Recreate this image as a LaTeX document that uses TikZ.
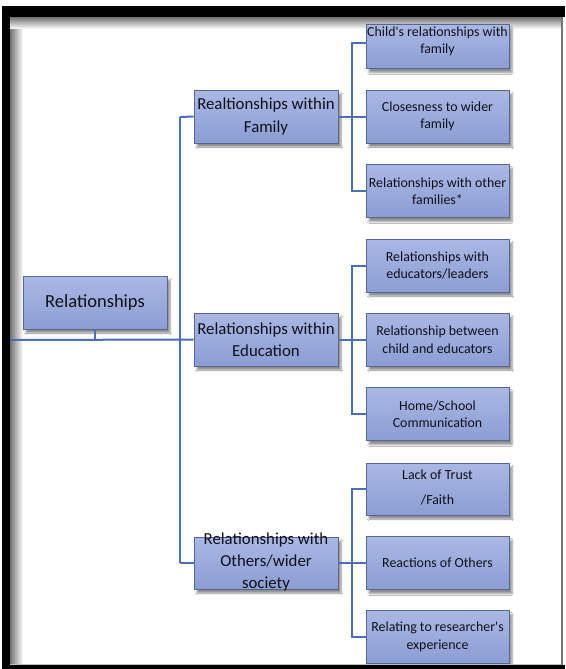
\documentclass[tikz,border=0pt]{standalone}
\usepackage{fontspec}
\setmainfont{Carlito}
\usetikzlibrary{shadows.blur}
\definecolor{boxtop}{RGB}{170,184,228}
\definecolor{boxbot}{RGB}{139,157,211}
\definecolor{boxedge}{RGB}{88,102,148}
\definecolor{conncol}{RGB}{76,110,180}
\definecolor{inkcol}{RGB}{16,16,24}
\tikzset{
  card/.style={rectangle, draw=boxedge, line width=0.8pt, top color=boxtop, bottom color=boxbot,
    blur shadow={shadow xshift=3pt, shadow yshift=-4pt, shadow blur steps=6, shadow opacity=45},
    text=inkcol, align=center, inner sep=1pt},
  rootbox/.style={card, minimum width=144pt, minimum height=53pt, font=\fontsize{18.5}{21}\selectfont},
  midbox/.style={card, minimum width=144pt, minimum height=53pt, font=\fontsize{16.8}{22.5}\selectfont},
  leafbox/.style={card, minimum width=143pt, minimum height=53pt, font=\fontsize{13.9}{17.5}\selectfont},
  leaftext/.style={text=inkcol, align=center, inner sep=0pt, font=\fontsize{13.9}{17.5}\selectfont},
  midtext/.style={text=inkcol, align=center, inner sep=0pt, font=\fontsize{16.8}{22}\selectfont},
  conn/.style={draw=conncol, line width=2pt}
}
\begin{document}
\begin{tikzpicture}[x=1pt,y=-1pt]
\useasboundingbox (0,0) rectangle (565,669);
\fill[white] (0,0) rectangle (565,669);

% inner soft shading along the top and left edges of the frame
\shade[left color=black!55, right color=white] (10,17) rectangle (23,665);
\shade[top color=black!55, bottom color=white] (10,17) rectangle (562,29);

% trunk coordinates
\coordinate (trunktop) at (180,117);
\coordinate (trunkbot) at (180,563);
\coordinate (leftend) at (10,340);

% level-one and level-two boxes
\node[rootbox] (root) at (95,302.5) {Relationships};
\node[midbox] (fam) at (266,116.5) {Realtionships within\\Family};
\node[midbox] (edu) at (266,339.5) {Relationships within\\Education};
\node[card, minimum width=144pt, minimum height=52pt] (oth) at (266,563) {};

% leaf boxes
\node[card, minimum width=143pt, minimum height=44pt] (f1) at (437.5,46.5) {};
\node[leafbox] (f2) at (437.5,116.5) {Closesness to wider\\family};
\node[leafbox] (f3) at (437.5,191) {Relationships with other\\families*};
\node[leafbox] (e1) at (437.5,265.5) {Relationships with\\educators/leaders};
\node[leafbox] (e2) at (437.5,339.5) {Relationship between\\child and educators};
\node[leafbox] (e3) at (437.5,414) {Home/School\\Communication};
\node[card, minimum width=143pt, minimum height=52pt] (o1) at (437.5,489) {};
\node[leafbox] (o2) at (437.5,563) {Reactions of Others};
\node[leafbox] (o3) at (437.5,637) {Relating to researcher\textquotesingle s\\experience};

% texts set apart from their boxes
\node[leaftext] (f1t) at (437.5,41.5) {Child\textquotesingle s relationships with\\family};
\node[midtext] (otht) at (266,562) {Relationships with\\Others/wider\\society};
\node[leaftext, font=\fontsize{13.9}{25}\selectfont] (o1t) at (437.5,487.5) {Lack of Trust\\/Faith};

% tree lines
\draw[conn] (leftend) -- (edu.west);
\draw[conn] (root.south) -- (root.south |- leftend);
\draw[conn] (trunktop) -- (trunkbot);
\draw[conn] (trunktop) -- (fam.west);
\draw[conn] (trunkbot) -- (oth.west);

\draw[conn] (fam.east) -- ++(14,0) coordinate (fb);
\draw[conn] ([yshift=3.5pt]f1.west) -| (fb) |- (f3.west);
\draw[conn] (fb) -- (f2.west);

\draw[conn] (edu.east) -- ++(14,0) coordinate (eb);
\draw[conn] (e1.west) -| (eb) |- (e3.west);
\draw[conn] (eb) -- (e2.west);

\draw[conn] (oth.east) -- ++(14,0) coordinate (ob);
\draw[conn] (o1.west) -| (ob) |- (o3.west);
\draw[conn] (ob) -- (o2.west);

% outer frame
\fill[black] (2,6) rectangle (565,17);
\fill[black] (2,6) rectangle (10,669);
\fill[black] (2,665) rectangle (565,669);
\draw[black!25, line width=0.8pt] (10,664) -- (562,664);
\draw[black!55, line width=1.2pt] (562,17) -- (562,665);
\end{tikzpicture}
\end{document}
